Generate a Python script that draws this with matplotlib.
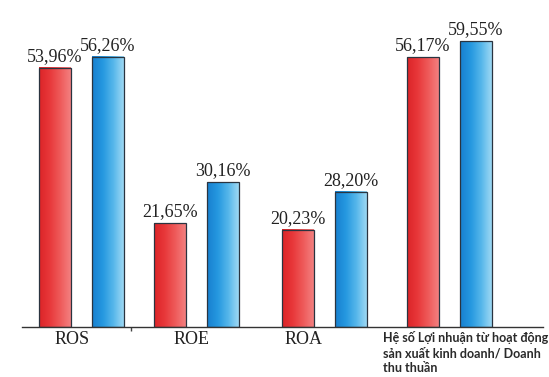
import numpy as np
import matplotlib.pyplot as plt
from matplotlib.colors import LinearSegmentedColormap

CATEGORIES = ['ROS', 'ROE', 'ROA',
              'Hệ số Lợi nhuận từ hoạt động\nsản xuất kinh doanh/ Doanh\nthu thuần']
RED_VALUES = [53.96, 21.65, 20.23, 56.17]
BLUE_VALUES = [56.26, 30.16, 28.20, 59.55]

# bố cục theo đơn vị pixel của trục x
GROUP_LEFT = [39, 154, 282, 407]
BAR_W = 32
BLUE_SHIFT = 53
LABEL_X = [72, 192, 304, 383]

RED_CMAP = LinearSegmentedColormap.from_list('do', ['#dc2428', '#e8383a', '#ee5a5a', '#f38080'])
BLUE_CMAP = LinearSegmentedColormap.from_list('xanh', ['#1880d0', '#2598e0', '#55b6ea', '#9dd8f4'])


def fmt(v):
    return f"{v:.2f}".replace('.', ',') + '%'


def gradient_bars(ax, lefts, values, cmap):
    bars = ax.bar(lefts, values, width=BAR_W, align='edge', facecolor='none',
                  edgecolor='#2a3440', linewidth=0.9, zorder=3)
    grad = np.linspace(0, 1, 64).reshape(1, -1)
    for b, v in zip(bars, values):
        x0, w, h = b.get_x(), b.get_width(), b.get_height()
        ax.imshow(grad, cmap=cmap, extent=[x0, x0 + w, 0, h], aspect='auto',
                  interpolation='bicubic', zorder=2)
        ax.text(x0 + w / 2, h + 0.6, fmt(v), ha='center', va='bottom',
                fontsize=13, family='Liberation Serif', color='#222222', zorder=4)
    return bars


fig = plt.figure(figsize=(5.49, 3.77), dpi=100)
ax = fig.add_axes([22 / 549, 50 / 377, 521 / 549, 327 / 377])

gradient_bars(ax, GROUP_LEFT, RED_VALUES, RED_CMAP)
gradient_bars(ax, [x + BLUE_SHIFT for x in GROUP_LEFT], BLUE_VALUES, BLUE_CMAP)

ax.set_xlim(22, 543)
ax.set_ylim(0, 327 / 4.8)
ax.set_aspect('auto')

for s in ['top', 'right', 'left']:
    ax.spines[s].set_visible(False)
ax.spines['bottom'].set_color('#333333')
ax.spines['bottom'].set_linewidth(1.0)
ax.set_yticks([])
ax.set_xticks([131])
ax.set_xticklabels([''])
ax.tick_params(axis='x', length=3, width=1, color='#444444', direction='out')

for i, (lab, x) in enumerate(zip(CATEGORIES, LABEL_X)):
    if i < 3:
        ax.annotate(lab, xy=(x, 0), xycoords=('data', 'axes fraction'),
                    xytext=(0, -3), textcoords='offset points', ha='center', va='top',
                    fontsize=13, family='Liberation Serif', color='#222222')
    else:
        ax.annotate(lab, xy=(x, 0), xycoords=('data', 'axes fraction'),
                    xytext=(0, -3), textcoords='offset points', ha='left', va='top',
                    fontsize=9, family='Lato', fontweight='bold', color='#2a2a2a',
                    linespacing=1.3)

fig.savefig('out.png', dpi=100, facecolor='white')
